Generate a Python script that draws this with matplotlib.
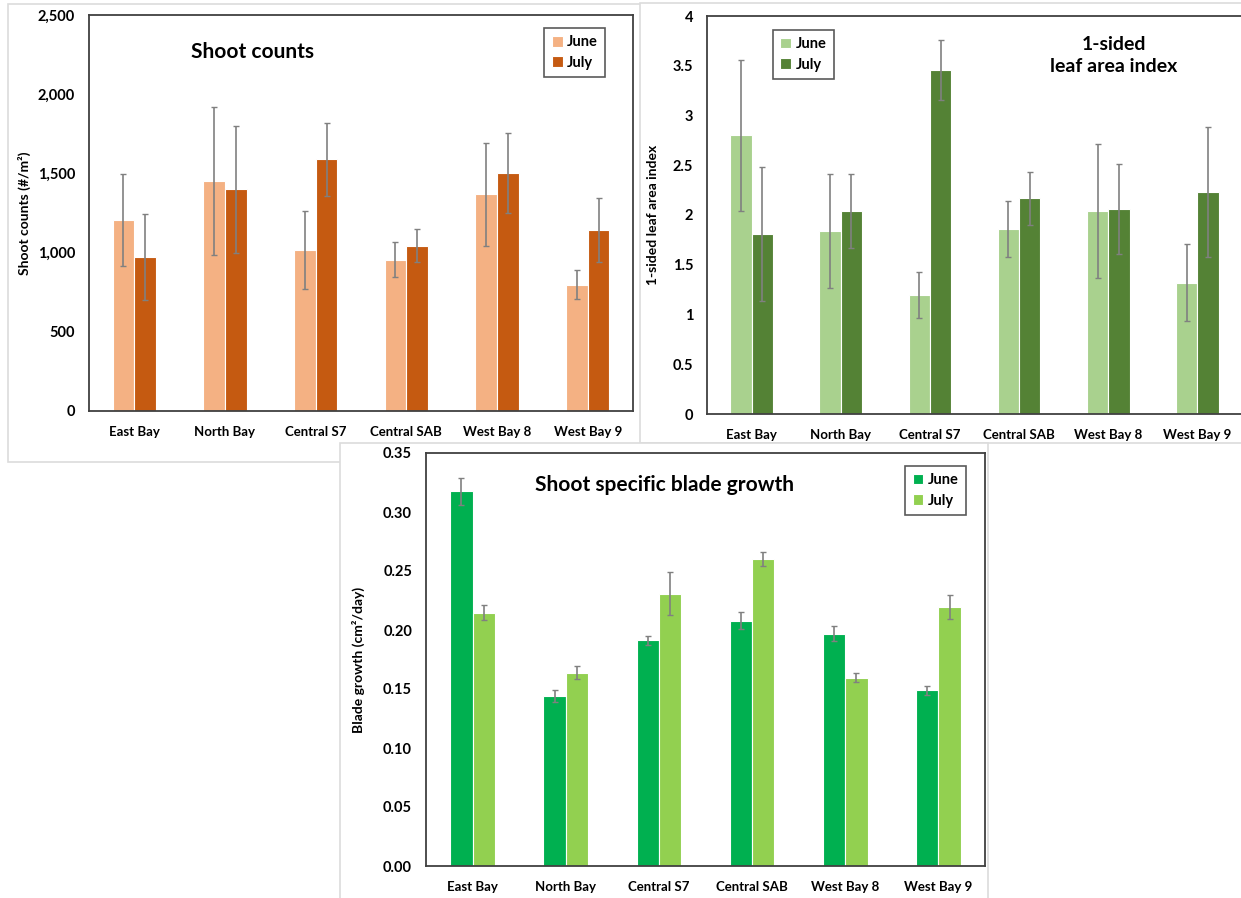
import numpy as np
import matplotlib
matplotlib.use("Agg")
import matplotlib.pyplot as plt
from matplotlib.patches import Rectangle
from matplotlib.ticker import FuncFormatter

plt.rcParams['font.family'] = ['Lato', 'DejaVu Sans']
plt.rcParams['font.weight'] = 'bold'

sites = ["East Bay", "North Bay", "Central S7", "Central SAB", "West Bay 8", "West Bay 9"]
months = ["June", "July"]

# shoot counts (#/m2)
shoot_june = [1206, 1453, 1017, 956, 1367, 797]
shoot_june_err = [288, 467, 245, 111, 326, 90]
shoot_july = [973, 1399, 1588, 1044, 1504, 1143]
shoot_july_err = [270, 401, 233, 103, 252, 204]

# 1-sided leaf area index
lai_june = [2.80, 1.84, 1.195, 1.86, 2.04, 1.32]
lai_june_err = [0.755, 0.575, 0.235, 0.28, 0.67, 0.39]
lai_july = [1.81, 2.04, 3.46, 2.166, 2.06, 2.23]
lai_july_err = [0.67, 0.375, 0.30, 0.27, 0.45, 0.65]

# shoot specific blade growth (cm2/day)
growth_june = [0.3175, 0.144, 0.1913, 0.208, 0.197, 0.1488]
growth_june_err = [0.0117, 0.005, 0.004, 0.0072, 0.0065, 0.0038]
growth_july = [0.2148, 0.1636, 0.2309, 0.260, 0.1596, 0.2193]
growth_july_err = [0.006, 0.0055, 0.018, 0.006, 0.004, 0.010]

W, H = 1241, 898
fig = plt.figure(figsize=(W / 100, H / 100), dpi=100)


def px_axes(left, top, right, bottom, z):
    return fig.add_axes([left / W, 1 - bottom / H, (right - left) / W, (bottom - top) / H], zorder=z)


def panel_box(left, top, right, bottom, z):
    r = Rectangle((left / W, 1 - bottom / H), (right - left) / W, (bottom - top) / H,
                  transform=fig.transFigure, facecolor="white", edgecolor="#dcdcdc",
                  linewidth=1.2, zorder=z)
    fig.patches.append(r)


def draw_panel(ax, june, june_err, july, july_err, colors, ymax, step, fmt,
               ylabel, ylabel_x, title, title_xy, title_size, leg_loc, leg_anchor):
    x = np.arange(len(sites))
    w = 0.24
    ekw = dict(ecolor="#808080", elinewidth=1.2, capsize=2, capthick=1.0)
    ax.bar(x - w / 2, june, w, yerr=june_err, color=colors[0], edgecolor="white",
           linewidth=0.8, label=months[0], error_kw=ekw)
    ax.bar(x + w / 2, july, w, yerr=july_err, color=colors[1], edgecolor="white",
           linewidth=0.8, label=months[1], error_kw=ekw)
    ax.set_xlim(-0.5, len(sites) - 0.5)
    ax.set_ylim(0, ymax)
    ax.set_yticks(np.arange(0, ymax + step / 2, step))
    ax.yaxis.set_major_formatter(FuncFormatter(fmt))
    ax.set_xticks(x)
    ax.set_xticklabels(sites)
    ax.tick_params(axis="y", length=0, pad=10, labelsize=10.5)
    ax.tick_params(axis="x", length=0, pad=11, labelsize=9.5)
    for s in ax.spines.values():
        s.set_color("#404040")
        s.set_linewidth(1.3)
    ax.set_ylabel(ylabel, fontsize=10, fontweight="bold")
    ax.yaxis.set_label_coords(ylabel_x, 0.5)
    ax.text(title_xy[0], title_xy[1], title, transform=ax.transAxes, ha="center",
            va="center", fontsize=title_size, fontweight="bold", linespacing=1.35)
    leg = ax.legend(loc=leg_loc, bbox_to_anchor=leg_anchor, fontsize=10.5,
                    frameon=True, fancybox=False, handlelength=0.75, handleheight=0.75,
                    handletextpad=0.3, labelspacing=0.45, borderpad=0.5, borderaxespad=0)
    leg.get_frame().set_edgecolor("#303030")
    leg.get_frame().set_linewidth(1.2)


# outer panel frames
panel_box(8, 4, 660, 462, 0.5)
panel_box(640, 3, 1250, 443, 1.5)
panel_box(340, 443, 988, 905, 2.5)

ax1 = px_axes(89, 15, 633, 411, 1)
draw_panel(ax1, shoot_june, shoot_june_err, shoot_july, shoot_july_err,
           ["#F4B183", "#C55A11"], 2500, 500, lambda v, p: f"{v:,.0f}",
           "Shoot counts (#/m²)", -0.107, "Shoot counts", (0.30, 0.907), 15,
           "upper right", (0.949, 0.967))

ax2 = px_axes(707, 16, 1242, 414, 2)
draw_panel(ax2, lai_june, lai_june_err, lai_july, lai_july_err,
           ["#A9D18E", "#548235"], 4, 0.5, lambda v, p: f"{v:g}",
           "1-sided leaf area index", -0.09, "1-sided\nleaf area index", (0.76, 0.90), 14,
           "upper left", (0.123, 0.965))

ax3 = px_axes(426, 453, 985, 866, 3)
draw_panel(ax3, growth_june, growth_june_err, growth_july, growth_july_err,
           ["#00B050", "#92D050"], 0.35, 0.05, lambda v, p: f"{v:.2f}",
           "Blade growth (cm²/day)", -0.109, "Shoot specific blade growth", (0.426, 0.922), 15,
           "upper right", (0.966, 0.969))

fig.savefig("out.png", dpi=100)
